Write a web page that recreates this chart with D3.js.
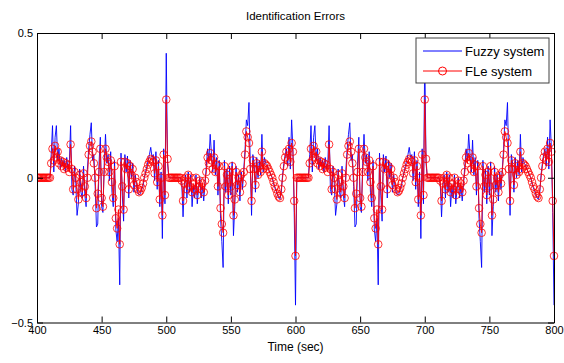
<!DOCTYPE html>
<html>
<head>
<meta charset="utf-8">
<script src="https://cdn.jsdelivr.net/npm/d3@7"></script>
<style>
  html, body { margin: 0; padding: 0; background: #ffffff; }
  svg { display: block; }
  text { font-family: "Liberation Sans", Arial, Helvetica, sans-serif; fill: #000; }
</style>
</head>
<body>
<svg id="chart" width="564" height="363"></svg>
<script>
// ---- Data (1 sample per second, t = 400..800) ----
const startTime = 400;
const endTime = 800;

const fleErr = [
  0,0,0,0,0,0,0,0,0,0,
  0,0.05,0.1,0.06,0.11,0.07,0.09,0.05,0.06,0.04,
  0.055,0.03,0.05,0.035,0.045,0.02,0.115,0.03,-0.04,0.02,
  0,-0.04,-0.075,0.01,-0.015,-0.05,0.015,-0.03,-0.07,0,
  0.08,0.11,0.125,0.09,0.05,0,-0.105,-0.055,0.02,0.1,
  -0.07,-0.1,0.02,0.1,0.07,0.055,0.02,0.06,-0.015,-0.07,
  0.04,-0.14,-0.175,-0.11,-0.23,0.055,-0.03,-0.11,0.055,0.03,
  0.05,-0.04,0.04,0.01,0.03,-0.025,0,-0.015,-0.04,-0.05,
  -0.045,-0.035,-0.02,0,0.015,0.03,0.045,0.055,0.065,0.06,
  0.055,0.015,0.06,-0.015,0.04,-0.075,0,-0.13,0.08,-0.06,
  0.27,0.065,0,0,0,0,0,0,0,0,
  0,0,-0.01,-0.08,-0.02,0,-0.04,0.01,-0.03,0,
  -0.05,-0.02,-0.04,0,-0.06,-0.03,-0.01,-0.04,-0.02,-0.05,
  -0.01,0.02,0.07,0.05,0.085,0.06,0.03,0.07,0.02,0.045,
  -0.03,0.04,-0.105,-0.16,-0.19,0.04,-0.03,0.01,-0.06,0.02,
  -0.03,0.04,-0.13,-0.075,0.02,-0.025,0,-0.05,0.01,-0.02,
  0.02,0.08,0.16,0.14,0.12,0.03,-0.08,0.06,0.03,-0.025,
  0.05,0.01,0.04,0.02,0.09,0.03,0.05,0.045,0.04,0.03,
  0.02,0.01,0,-0.015,-0.03,-0.04,-0.055,-0.065,-0.07,-0.04,
  0,0.04,0.07,0.09,0.06,0.1,0.055,0.12,0.09,-0.08,
  -0.27,0,0,0,0,0,0,0,0,0,
  0,0.05,0.1,0.06,0.11,0.07,0.09,0.05,0.06,0.04,
  0.055,0.03,0.05,0.035,0.045,0.02,0.115,0.03,-0.04,0.02,
  0,-0.04,-0.075,0.01,-0.015,-0.05,0.015,-0.03,-0.07,0,
  0.08,0.11,0.125,0.09,0.05,0,-0.105,-0.055,0.02,0.1,
  -0.07,-0.1,0.02,0.1,0.07,0.055,0.02,0.06,-0.015,-0.07,
  0.04,-0.14,-0.175,-0.11,-0.23,0.055,-0.03,-0.11,0.055,0.03,
  0.05,-0.04,0.04,0.01,0.03,-0.025,0,-0.015,-0.04,-0.05,
  -0.045,-0.035,-0.02,0,0.015,0.03,0.045,0.055,0.065,0.06,
  0.055,0.015,0.06,-0.015,0.04,-0.075,0,-0.13,0.08,-0.06,
  0.27,0.065,0,0,0,0,0,0,0,0,
  0,0,-0.01,-0.08,-0.02,0,-0.04,0.01,-0.03,0,
  -0.05,-0.02,-0.04,0,-0.06,-0.03,-0.01,-0.04,-0.02,-0.05,
  -0.01,0.02,0.07,0.05,0.085,0.06,0.03,0.07,0.02,0.045,
  -0.03,0.04,-0.105,-0.16,-0.19,0.04,-0.03,0.01,-0.06,0.02,
  -0.03,0.04,-0.13,-0.075,0.02,-0.025,0,-0.05,0.01,-0.02,
  0.02,0.08,0.16,0.14,0.12,0.03,-0.08,0.06,0.03,-0.025,
  0.05,0.01,0.04,0.02,0.09,0.03,0.05,0.045,0.04,0.03,
  0.02,0.01,0,-0.015,-0.03,-0.04,-0.055,-0.065,-0.07,-0.04,
  0,0.04,0.07,0.09,0.06,0.1,0.055,0.12,0.09,-0.08,
  -0.27
];

const fuzzyErr = [
  0,0,0,0,0,0,0,0,0,0,
  0,0.08,0.18,0.02,0.14,0.18,0.06,0.1,0.03,0.07,
  0.04,0.06,0.02,0.07,0.03,0.05,0.18,-0.04,-0.06,0.04,
  -0.02,-0.13,-0.09,0.03,-0.05,-0.07,0.04,-0.06,-0.1,0.03,
  0.1,0.15,0.19,0.06,0.08,-0.03,-0.17,-0.16,0.05,0.14,
  -0.1,-0.12,0.05,0.15,0.05,0.08,-0.01,0.09,-0.05,-0.1,
  0.06,-0.18,-0.22,-0.14,-0.37,0.085,-0.06,-0.15,0.08,0.02,
  0.075,-0.07,0.06,0,0.05,-0.05,0.01,-0.03,-0.05,-0.06,
  -0.055,-0.04,-0.03,0,0.02,0.04,0.06,0.08,0.105,0.07,
  0.08,-0.01,0.09,-0.04,0.06,-0.1,0.02,-0.21,0.1,-0.09,
  0.43,0.05,0,0,0,0,0,0,0,0,
  0,0,-0.02,-0.135,-0.03,0.01,-0.07,0.02,-0.05,0.01,
  -0.1,-0.03,-0.07,0.01,-0.09,-0.04,0,-0.07,-0.03,-0.08,
  -0.02,0.04,0.1,0.06,0.15,0.08,0.02,0.13,0.01,0.07,
  -0.06,0.06,-0.14,-0.22,-0.31,0.06,-0.05,0.03,-0.09,0.04,
  -0.06,0.055,-0.2,-0.1,0.04,-0.05,0.01,-0.08,0.02,-0.04,
  0.03,0.1,0.2,0.18,0.26,0.05,-0.13,0.08,0.05,-0.05,
  0.07,0,0.06,0.01,0.15,0.02,0.07,0.05,0.045,0.03,
  0.02,0.01,0,-0.02,-0.035,-0.045,-0.06,-0.07,-0.075,-0.05,
  0.01,0.05,0.08,0.1,0.04,0.14,0.03,0.2,0.1,-0.12,
  -0.44,0,0,0,0,0,0,0,0,0,
  0,0.08,0.18,0.02,0.14,0.18,0.06,0.1,0.03,0.07,
  0.04,0.06,0.02,0.07,0.03,0.05,0.18,-0.04,-0.06,0.04,
  -0.02,-0.13,-0.09,0.03,-0.05,-0.07,0.04,-0.06,-0.1,0.03,
  0.1,0.15,0.19,0.06,0.08,-0.03,-0.17,-0.16,0.05,0.14,
  -0.1,-0.12,0.05,0.15,0.05,0.08,-0.01,0.09,-0.05,-0.1,
  0.06,-0.18,-0.22,-0.14,-0.37,0.085,-0.06,-0.15,0.08,0.02,
  0.075,-0.07,0.06,0,0.05,-0.05,0.01,-0.03,-0.05,-0.06,
  -0.055,-0.04,-0.03,0,0.02,0.04,0.06,0.08,0.105,0.07,
  0.08,-0.01,0.09,-0.04,0.06,-0.1,0.02,-0.21,0.1,-0.09,
  0.43,0.05,0,0,0,0,0,0,0,0,
  0,0,-0.02,-0.135,-0.03,0.01,-0.07,0.02,-0.05,0.01,
  -0.1,-0.03,-0.07,0.01,-0.09,-0.04,0,-0.07,-0.03,-0.08,
  -0.02,0.04,0.1,0.06,0.15,0.08,0.02,0.13,0.01,0.07,
  -0.06,0.06,-0.14,-0.22,-0.31,0.06,-0.05,0.03,-0.09,0.04,
  -0.06,0.055,-0.2,-0.1,0.04,-0.05,0.01,-0.08,0.02,-0.04,
  0.03,0.1,0.2,0.18,0.26,0.05,-0.13,0.08,0.05,-0.05,
  0.07,0,0.06,0.01,0.15,0.02,0.07,0.05,0.045,0.03,
  0.02,0.01,0,-0.02,-0.035,-0.045,-0.06,-0.07,-0.075,-0.05,
  0.01,0.05,0.08,0.1,0.04,0.14,0.03,0.2,0.1,-0.12,
  -0.44
];

const xTicks = [400, 450, 500, 550, 600, 650, 700, 750, 800];
const yTicks = [-0.5, 0, 0.5];
const seriesNames = ["Fuzzy system", "FLe system"];
const titleText = "Identification Errors";
const xLabelText = "Time (sec)";

// ---- Layout ----
const svg = d3.select("#chart");
const plot = { left: 37, right: 554, top: 33, bottom: 322.5 };

const x = d3.scaleLinear().domain([startTime, endTime]).range([plot.left, plot.right]);
const y = d3.scaleLinear().domain([-0.5, 0.5]).range([plot.bottom, plot.top]);

const times = d3.range(fleErr.length).map(i => startTime + i);
const fuzzyData = fuzzyErr.map((v, i) => ({ t: times[i], v }));
const fleData = fleErr.map((v, i) => ({ t: times[i], v }));

svg.append("rect").attr("width", 564).attr("height", 363).attr("fill", "#fff");

const defs = svg.append("defs");
defs.append("clipPath").attr("id", "clip")
  .append("rect")
  .attr("x", plot.left).attr("y", plot.top - 6)
  .attr("width", plot.right - plot.left + 6).attr("height", plot.bottom - plot.top + 12);

const line = d3.line().x(d => x(d.t)).y(d => y(d.v));

const g = svg.append("g").attr("clip-path", "url(#clip)");

g.append("path").datum(fuzzyData)
  .attr("d", line).attr("fill", "none")
  .attr("stroke", "#0000ff").attr("stroke-width", 0.9);

g.append("path").datum(fleData)
  .attr("d", line).attr("fill", "none")
  .attr("stroke", "#ff0000").attr("stroke-width", 0.9);

g.selectAll("circle.mk").data(fleData).enter().append("circle")
  .attr("class", "mk")
  .attr("cx", d => x(d.t)).attr("cy", d => y(d.v)).attr("r", 3.8)
  .attr("fill", "none").attr("stroke", "#ff0000").attr("stroke-width", 0.8);

// ---- Axes (MATLAB-style box with inward ticks) ----
const tickLen = 6;
const axisBottom = d3.axisBottom(x).tickValues(xTicks).tickSizeInner(-tickLen).tickSizeOuter(0).tickPadding(4).tickFormat(d3.format("d"));
const axisTop = d3.axisTop(x).tickValues(xTicks).tickSizeInner(-tickLen).tickSizeOuter(0).tickFormat("");
const axisLeft = d3.axisLeft(y).tickValues(yTicks).tickSizeInner(-tickLen).tickSizeOuter(0).tickPadding(4).tickFormat(d => d === 0 ? "0" : d3.format(".1f")(d));
const axisRight = d3.axisRight(y).tickValues(yTicks).tickSizeInner(-tickLen).tickSizeOuter(0).tickFormat("");

function styleAxis(sel) {
  sel.select(".domain").attr("stroke", "#000").attr("stroke-width", 1);
  sel.selectAll(".tick line").attr("stroke", "#000").attr("stroke-width", 1);
  sel.selectAll(".tick text").attr("font-family", "Liberation Sans, Arial, sans-serif").attr("font-size", 11).attr("fill", "#000");
}

svg.append("g").attr("transform", `translate(0,${plot.bottom})`).call(axisBottom).call(styleAxis);
svg.append("g").attr("transform", `translate(0,${plot.top})`).call(axisTop).call(styleAxis);
svg.append("g").attr("transform", `translate(${plot.left},0)`).call(axisLeft).call(styleAxis);
svg.append("g").attr("transform", `translate(${plot.right},0)`).call(axisRight).call(styleAxis);

// ---- Title and label ----
svg.append("text").attr("x", (plot.left + plot.right) / 2).attr("y", 20)
  .attr("text-anchor", "middle").attr("font-size", 11.5).text(titleText);
svg.append("text").attr("x", (plot.left + plot.right) / 2).attr("y", 351)
  .attr("text-anchor", "middle").attr("font-size", 12).text(xLabelText);

// ---- Legend ----
const lg = svg.append("g");
const lgBox = { x: 416, y: 38, w: 133, h: 45 };
lg.append("rect").attr("x", lgBox.x).attr("y", lgBox.y).attr("width", lgBox.w).attr("height", lgBox.h)
  .attr("fill", "#fff").attr("stroke", "#404040").attr("stroke-width", 1);
const rowsY = [lgBox.y + 13, lgBox.y + 33];
const lineX0 = lgBox.x + 7, lineX1 = lgBox.x + 46;
lg.append("line").attr("x1", lineX0).attr("x2", lineX1).attr("y1", rowsY[0]).attr("y2", rowsY[0])
  .attr("stroke", "#0000ff").attr("stroke-width", 1);
lg.append("line").attr("x1", lineX0).attr("x2", lineX1).attr("y1", rowsY[1]).attr("y2", rowsY[1])
  .attr("stroke", "#ff0000").attr("stroke-width", 1);
lg.append("circle").attr("cx", (lineX0 + lineX1) / 2).attr("cy", rowsY[1]).attr("r", 4)
  .attr("fill", "none").attr("stroke", "#ff0000").attr("stroke-width", 1);
seriesNames.forEach((name, i) => {
  lg.append("text").attr("x", lgBox.x + 49).attr("y", rowsY[i]).attr("dy", "0.35em")
    .attr("font-size", 13).text(name);
});
</script>
</body>
</html>
